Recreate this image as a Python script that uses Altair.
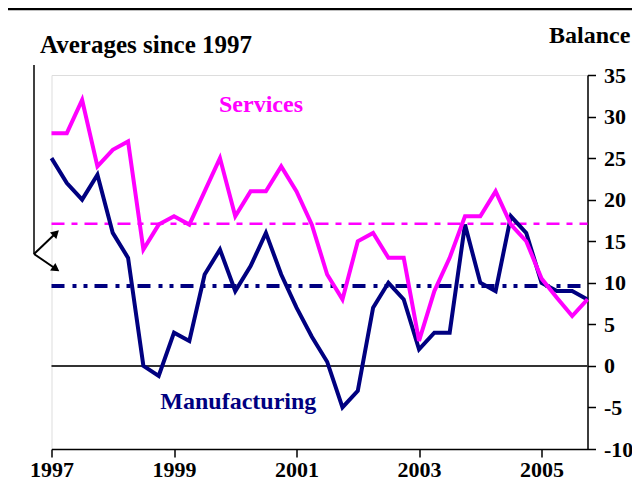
import altair as alt
import pandas as pd

# Quarterly survey balances, 1997 Q1 - 2005 Q4
years = [1997 + i * 0.25 for i in range(36)]
services = [28, 28, 32, 24, 26, 27, 14, 17, 18, 17, 21, 25, 18, 21, 21, 24,
            21, 17, 11, 8, 15, 16, 13, 13, 3, 9, 13, 18, 18, 21, 17, 15,
            10.5, 8.2, 6, 8]
manufacturing = [25, 22, 20, 23, 16, 13, 0, -1.2, 4, 3, 11, 14, 9, 12, 16, 11,
                 7, 3.5, 0.5, -5, -3, 7, 10, 8, 2, 4, 4, 17, 10, 9, 18, 16,
                 10, 9, 9, 8]
avg_services = 17.1
avg_manufacturing = 9.6
x_ticks = [1997, 1999, 2001, 2003, 2005]
y_ticks = [-10, -5, 0, 5, 10, 15, 20, 25, 30, 35]

FONT = "Liberation Serif"
MAGENTA = "#FF00FF"
NAVY = "#000080"

df = pd.DataFrame({"year": years, "Services": services, "Manufacturing": manufacturing})

xscale = alt.Scale(domain=[1997, 2005.75], nice=False, zero=False)
yscale = alt.Scale(domain=[-10, 35], nice=False, zero=False)

base = alt.Chart(df)

zero_df = pd.DataFrame({"x": [1997], "x2": [2005.75], "y": [0]})
zero_line = alt.Chart(zero_df).mark_rule(color="#333333", strokeWidth=2).encode(
    x=alt.X("x:Q", scale=xscale), x2="x2:Q", y=alt.Y("y:Q", scale=yscale))

avg_df = pd.DataFrame({"x": [1997], "x2": [2005.75], "s": [avg_services], "m": [avg_manufacturing]})
avg_s = alt.Chart(avg_df).mark_rule(color=MAGENTA, strokeWidth=2.5, strokeDash=[13, 7, 6, 7]).encode(
    x=alt.X("x:Q", scale=xscale), x2="x2:Q", y=alt.Y("s:Q", scale=yscale))
avg_m = alt.Chart(avg_df).mark_rule(color=NAVY, strokeWidth=4, strokeDash=[13, 8, 4, 7, 4, 7]).encode(
    x=alt.X("x:Q", scale=xscale), x2="x2:Q", y=alt.Y("m:Q", scale=yscale))

line_m = base.mark_line(color=NAVY, strokeWidth=4, strokeJoin="miter").encode(
    x=alt.X("year:Q", scale=xscale,
            axis=alt.Axis(values=x_ticks, format="d", title=None, grid=False, labelFlush=False,
                          labelFont=FONT, labelFontWeight="bold", labelFontSize=22,
                          labelColor="black", tickColor="black", tickSize=8, tickWidth=1.5,
                          domainColor="black", domainWidth=1.5, labelPadding=19,
                          labelBaseline="alphabetic")),
    y=alt.Y("Manufacturing:Q", scale=yscale,
            axis=alt.Axis(orient="right", values=y_ticks, title=None, grid=False,
                          labelFlush=False, labelExpr="'' + datum.value",
                          labelFont=FONT, labelFontWeight="bold", labelFontSize=22,
                          labelColor="black", tickColor="black", tickSize=8, tickWidth=1.5,
                          domainColor="black", domainWidth=1.5, labelPadding=8)))
line_s = base.mark_line(color=MAGENTA, strokeWidth=4, strokeJoin="miter").encode(
    x=alt.X("year:Q", scale=xscale), y=alt.Y("Services:Q", scale=yscale))

lab_df = pd.DataFrame({"x": [2000.42, 2000.05], "y": [31.4, -4.3],
                       "t": ["Services", "Manufacturing"], "c": [MAGENTA, NAVY]})
labels = alt.Chart(lab_df).mark_text(font=FONT, fontWeight="bold", fontSize=24, align="center",
                                     baseline="middle").encode(
    x=alt.X("x:Q", scale=xscale), y=alt.Y("y:Q", scale=yscale), text="t:N",
    color=alt.Color("c:N", scale=None))

# pixel annotations outside the plot
avg_text = alt.Chart(pd.DataFrame({"t": ["Averages since 1997"]})).mark_text(
    font=FONT, fontWeight="bold", fontSize=25, align="left", baseline="alphabetic").encode(
    x=alt.value(-11.5), y=alt.value(-22), text="t:N")
bal_text = alt.Chart(pd.DataFrame({"t": ["Balance"]})).mark_text(
    font=FONT, fontWeight="bold", fontSize=24, align="left", baseline="alphabetic").encode(
    x=alt.value(497.5), y=alt.value(-32), text="t:N")

vline = alt.Chart(pd.DataFrame({"a": [0]})).mark_rule(color="black", strokeWidth=1.5).encode(
    x=alt.value(-17.5), y=alt.value(-10), y2=alt.value(179))
arr1 = alt.Chart(pd.DataFrame({"a": [0]})).mark_rule(color="black", strokeWidth=2).encode(
    x=alt.value(-17.5), x2=alt.value(4.5), y=alt.value(179), y2=alt.value(158))
arr2 = alt.Chart(pd.DataFrame({"a": [0]})).mark_rule(color="black", strokeWidth=2).encode(
    x=alt.value(-17.5), x2=alt.value(4.5), y=alt.value(179), y2=alt.value(194))
head1 = alt.Chart(pd.DataFrame({"a": [0]})).mark_point(
    shape="triangle-up", filled=True, color="black", opacity=1, size=85, angle=46).encode(
    x=alt.value(4.5), y=alt.value(158))
head2 = alt.Chart(pd.DataFrame({"a": [0]})).mark_point(
    shape="triangle-up", filled=True, color="black", opacity=1, size=85, angle=125).encode(
    x=alt.value(4.5), y=alt.value(194))
top_rule = alt.Chart(pd.DataFrame({"a": [0]})).mark_rule(color="black", strokeWidth=2.5).encode(
    x=alt.value(-43.5), x2=alt.value(590), y=alt.value(-66))

chart = alt.layer(zero_line, avg_s, avg_m, line_m, line_s, labels, avg_text, bal_text,
                  vline, arr1, arr2, head1, head2, top_rule).properties(
    width=536, height=374,
    autosize=alt.AutoSizeParams(type="none"),
    padding={"left": 43.5, "top": 67, "right": 44.5, "bottom": 32},
).configure_view(strokeWidth=0, stroke="transparent").configure(background="white")

chart.save("out.html", embed_options={"renderer": "svg", "actions": False})
